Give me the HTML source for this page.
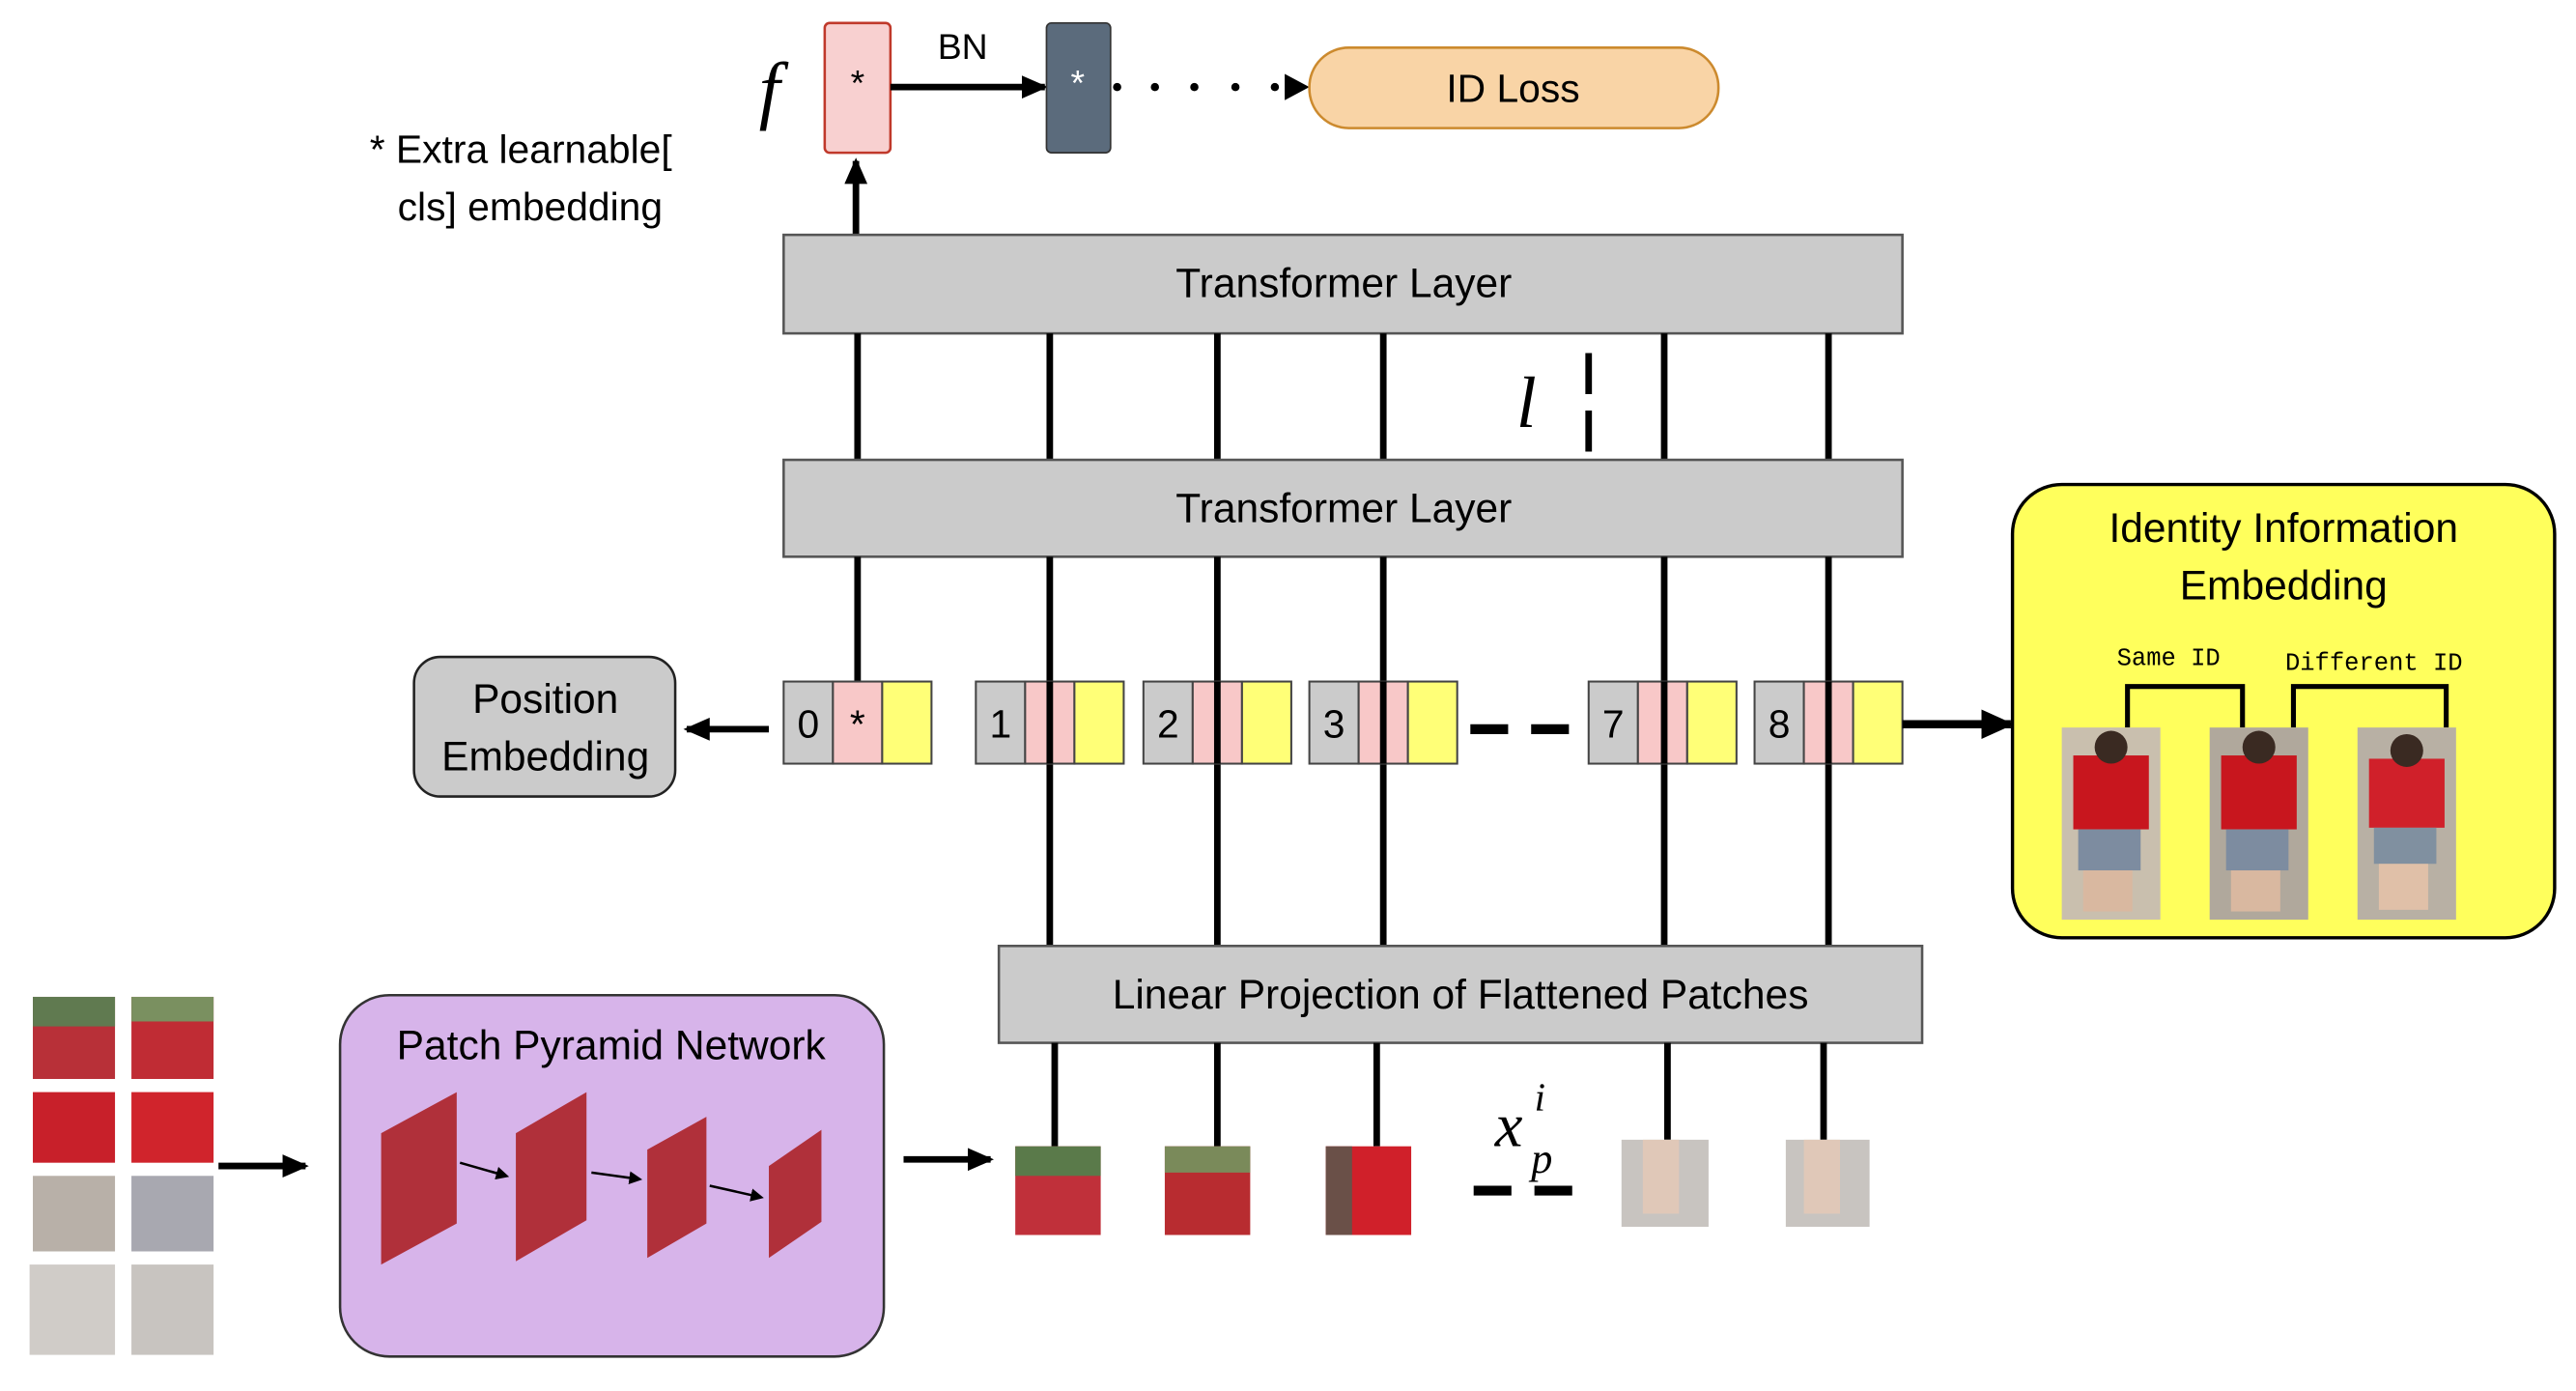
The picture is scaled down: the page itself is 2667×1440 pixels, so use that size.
<!DOCTYPE html>
<html><head><meta charset="utf-8"><style>html,body{margin:0;padding:0;background:#fff;}svg{display:block}</style></head>
<body>
<svg width="2667" height="1440" viewBox="0 0 1568 847" preserveAspectRatio="none" xmlns="http://www.w3.org/2000/svg" font-family="'Liberation Sans', sans-serif">
<defs>
<marker id="ah" markerWidth="8" markerHeight="8" refX="6" refY="4" orient="auto" markerUnits="userSpaceOnUse"><path d="M0,0 L8,4 L0,8 z" fill="#000"/></marker>
<marker id="ah2" markerWidth="16" markerHeight="14" refX="14" refY="7" orient="auto" markerUnits="userSpaceOnUse"><path d="M0,0 L16,7 L0,14 z" fill="#000"/></marker>
<marker id="ah3" markerWidth="20" markerHeight="18" refX="18" refY="9" orient="auto" markerUnits="userSpaceOnUse"><path d="M0,0 L20,9 L0,18 z" fill="#000"/></marker>
</defs>
<!-- top -->
<text x="462" y="70" font-family="'Liberation Serif', serif" font-style="italic" font-size="46">f</text>
<rect x="502" y="14" width="40" height="79" rx="3" fill="#f8d0d0" stroke="#c0392b" stroke-width="1.5"/>
<text x="522" y="58" text-anchor="middle" font-size="22">*</text>
<line x1="542" y1="53" x2="636" y2="53" stroke="#000" stroke-width="4" marker-end="url(#ah2)"/>
<text x="586" y="36" text-anchor="middle" font-size="22">BN</text>
<rect x="637" y="14" width="39" height="79" rx="3" fill="#5b6b7c" stroke="#333" stroke-width="1"/>
<text x="656" y="58" text-anchor="middle" font-size="22" fill="#fff">*</text>
<g fill="#000"><circle cx="680" cy="53" r="2.5"/><circle cx="703" cy="53" r="2.5"/><circle cx="727" cy="53" r="2.5"/><circle cx="752" cy="53" r="2.5"/><circle cx="776" cy="53" r="2.5"/></g>
<path d="M782,45 L797,53 L782,61 z" fill="#000"/>
<rect x="797" y="29" width="249" height="49" rx="24" fill="#f9d4a6" stroke="#cc8a2e" stroke-width="1.5"/>
<text x="921" y="62" text-anchor="middle" font-size="24">ID Loss</text>
<text x="225" y="99" font-size="24">*  Extra learnable[</text>
<text x="242" y="134" font-size="24">cls] embedding</text>
<line x1="521" y1="143" x2="521" y2="98" stroke="#000" stroke-width="4" marker-end="url(#ah2)"/>
<!-- transformer layers -->
<rect x="477" y="143" width="681" height="60" fill="#cbcbcb" stroke="#555" stroke-width="1.5"/>
<text x="818" y="181" text-anchor="middle" font-size="25">Transformer Layer</text>
<g stroke="#000" stroke-width="4">
<line x1="522" y1="203" x2="522" y2="280"/><line x1="639" y1="203" x2="639" y2="280"/><line x1="741" y1="203" x2="741" y2="280"/><line x1="842" y1="203" x2="842" y2="280"/><line x1="1013" y1="203" x2="1013" y2="280"/><line x1="1113" y1="203" x2="1113" y2="280"/>
<line x1="967" y1="215" x2="967" y2="240"/><line x1="967" y1="250" x2="967" y2="275"/>
</g>
<text x="923" y="260" font-family="'Liberation Serif', serif" font-style="italic" font-size="44">l</text>
<rect x="477" y="280" width="681" height="59" fill="#cbcbcb" stroke="#555" stroke-width="1.5"/>
<text x="818" y="318" text-anchor="middle" font-size="25">Transformer Layer</text>
<g stroke="#000" stroke-width="4">
<line x1="522" y1="339" x2="522" y2="415"/><line x1="639" y1="339" x2="639" y2="415"/><line x1="741" y1="339" x2="741" y2="415"/><line x1="842" y1="339" x2="842" y2="415"/><line x1="1013" y1="339" x2="1013" y2="415"/><line x1="1113" y1="339" x2="1113" y2="415"/>
<line x1="639" y1="465" x2="639" y2="576"/><line x1="741" y1="465" x2="741" y2="576"/><line x1="842" y1="465" x2="842" y2="576"/><line x1="1013" y1="465" x2="1013" y2="576"/><line x1="1113" y1="465" x2="1113" y2="576"/>
</g>
<!-- tokens -->
<g stroke="#444" stroke-width="1.2" font-size="24">
<rect x="477" y="415" width="30" height="50" fill="#cbcbcb"/><rect x="507" y="415" width="30" height="50" fill="#f8c8c8"/><rect x="537" y="415" width="30" height="50" fill="#ffff77"/>
<rect x="594" y="415" width="30" height="50" fill="#cbcbcb"/><rect x="624" y="415" width="30" height="50" fill="#f8c8c8"/><rect x="654" y="415" width="30" height="50" fill="#ffff77"/>
<rect x="696" y="415" width="30" height="50" fill="#cbcbcb"/><rect x="726" y="415" width="30" height="50" fill="#f8c8c8"/><rect x="756" y="415" width="30" height="50" fill="#ffff77"/>
<rect x="797" y="415" width="30" height="50" fill="#cbcbcb"/><rect x="827" y="415" width="30" height="50" fill="#f8c8c8"/><rect x="857" y="415" width="30" height="50" fill="#ffff77"/>
<rect x="967" y="415" width="30" height="50" fill="#cbcbcb"/><rect x="997" y="415" width="30" height="50" fill="#f8c8c8"/><rect x="1027" y="415" width="30" height="50" fill="#ffff77"/>
<rect x="1068" y="415" width="30" height="50" fill="#cbcbcb"/><rect x="1098" y="415" width="30" height="50" fill="#f8c8c8"/><rect x="1128" y="415" width="30" height="50" fill="#ffff77"/>
</g>
<g stroke="#000" stroke-width="4">
<line x1="639" y1="415" x2="639" y2="465"/><line x1="741" y1="415" x2="741" y2="465"/><line x1="842" y1="415" x2="842" y2="465"/><line x1="1013" y1="415" x2="1013" y2="465"/><line x1="1113" y1="415" x2="1113" y2="465"/>
</g>
<g font-size="24" text-anchor="middle">
<text x="492" y="449">0</text><text x="522" y="449">*</text><text x="609" y="449">1</text><text x="711" y="449">2</text><text x="812" y="449">3</text><text x="982" y="449">7</text><text x="1083" y="449">8</text>
</g>
<g stroke="#000" stroke-width="6"><line x1="895" y1="444" x2="918" y2="444"/><line x1="932" y1="444" x2="955" y2="444"/>
<line x1="897" y1="725" x2="920" y2="725"/><line x1="934" y1="725" x2="957" y2="725"/></g>
<!-- position embedding -->
<rect x="252" y="400" width="159" height="85" rx="16" fill="#cbcbcb" stroke="#222" stroke-width="1.5"/>
<text x="332" y="434" text-anchor="middle" font-size="25">Position</text>
<text x="332" y="469" text-anchor="middle" font-size="25">Embedding</text>
<line x1="468" y1="444" x2="418" y2="444" stroke="#000" stroke-width="4" marker-end="url(#ah2)"/>
<line x1="1158" y1="441" x2="1224" y2="441" stroke="#000" stroke-width="5" marker-end="url(#ah3)"/>
<!-- identity box -->
<rect x="1225" y="295" width="330" height="276" rx="30" fill="#ffff5c" stroke="#000" stroke-width="2"/>
<text x="1390" y="330" text-anchor="middle" font-size="25">Identity Information</text>
<text x="1390" y="365" text-anchor="middle" font-size="25">Embedding</text>
<text x="1320" y="405" text-anchor="middle" font-family="'Liberation Mono', monospace" font-size="15">Same ID</text>
<text x="1445" y="408" text-anchor="middle" font-family="'Liberation Mono', monospace" font-size="15">Different ID</text>
<g fill="none" stroke="#000" stroke-width="3"><path d="M1295,443 V418 H1365 V443"/><path d="M1396,443 V418 H1489 V443"/></g>
<g>
<rect x="1255" y="443" width="60" height="117" fill="#c9bfae"/><rect x="1262" y="460" width="46" height="45" fill="#c8161e"/><rect x="1265" y="505" width="38" height="25" fill="#7d8ca0"/><rect x="1268" y="530" width="30" height="25" fill="#d9b8a0"/><circle cx="1285" cy="455" r="10" fill="#3a2a22"/>
<rect x="1345" y="443" width="60" height="117" fill="#b0a89c"/><rect x="1352" y="460" width="46" height="45" fill="#c8161e"/><rect x="1355" y="505" width="38" height="25" fill="#7d8ca0"/><rect x="1358" y="530" width="30" height="25" fill="#d9b8a0"/><circle cx="1375" cy="455" r="10" fill="#3a2a22"/>
<rect x="1435" y="443" width="60" height="117" fill="#b8b0a4"/><rect x="1442" y="462" width="46" height="42" fill="#d0202a"/><rect x="1445" y="504" width="38" height="22" fill="#8090a0"/><rect x="1448" y="526" width="30" height="28" fill="#e0c0a8"/><circle cx="1465" cy="457" r="10" fill="#3a2a22"/>
</g>
<!-- linear projection -->
<rect x="608" y="576" width="562" height="59" fill="#cbcbcb" stroke="#555" stroke-width="1.5"/>
<text x="889" y="614" text-anchor="middle" font-size="25">Linear Projection of Flattened Patches</text>
<g stroke="#000" stroke-width="4">
<line x1="642" y1="635" x2="642" y2="698"/><line x1="741" y1="635" x2="741" y2="698"/><line x1="838" y1="635" x2="838" y2="698"/><line x1="1015" y1="635" x2="1015" y2="694"/><line x1="1110" y1="635" x2="1110" y2="694"/>
</g>
<rect x="618" y="698" width="52" height="54" fill="#c0303a"/><rect x="618" y="698" width="52" height="18" fill="#5a7a4a"/>
<rect x="709" y="698" width="52" height="54" fill="#b82c30"/><rect x="709" y="698" width="52" height="16" fill="#7a8a5a"/>
<rect x="807" y="698" width="52" height="54" fill="#d0202a"/><rect x="807" y="698" width="16" height="54" fill="#6a5048"/>
<rect x="987" y="694" width="53" height="53" fill="#c8c4c0"/><rect x="1000" y="694" width="22" height="45" fill="#e0c8b8"/>
<rect x="1087" y="694" width="51" height="53" fill="#c8c4c0"/><rect x="1098" y="694" width="22" height="45" fill="#e0c8b8"/>
<text x="910" y="698" font-family="'Liberation Serif', serif" font-style="italic" font-size="38">x</text>
<text x="934" y="676" font-family="'Liberation Serif', serif" font-style="italic" font-size="24">i</text>
<text x="932" y="714" font-family="'Liberation Serif', serif" font-style="italic" font-size="26">p</text>
<!-- left grid -->
<g>
<rect x="20" y="607" width="50" height="50" fill="#b83038"/><rect x="20" y="607" width="50" height="18" fill="#607a50"/>
<rect x="80" y="607" width="50" height="50" fill="#c02c34"/><rect x="80" y="607" width="50" height="15" fill="#7a9060"/>
<rect x="20" y="665" width="50" height="43" fill="#c8202a"/><rect x="80" y="665" width="50" height="43" fill="#d0242c"/>
<rect x="20" y="716" width="50" height="46" fill="#b8b0a8"/><rect x="80" y="716" width="50" height="46" fill="#a8a8b0"/>
<rect x="18" y="770" width="52" height="55" fill="#d0ccc8"/><rect x="80" y="770" width="50" height="55" fill="#c8c4c0"/>
</g>
<line x1="133" y1="710" x2="186" y2="710" stroke="#000" stroke-width="4" marker-end="url(#ah2)"/>
<rect x="207" y="606" width="331" height="220" rx="30" fill="#d7b4ea" stroke="#333" stroke-width="1.5"/>
<text x="372" y="645" text-anchor="middle" font-size="25">Patch Pyramid Network</text>
<polygon points="232,690 278,665 278,745 232,770" fill="#b0303a"/>
<polygon points="314,690 357,665 357,743 314,768" fill="#b0303a"/>
<polygon points="394,700 430,680 430,745 394,766" fill="#b0303a"/>
<polygon points="468,710 500,688 500,744 468,766" fill="#b0303a"/>
<g stroke="#000" stroke-width="1.5"><line x1="280" y1="708" x2="308" y2="716" marker-end="url(#ah)"/><line x1="360" y1="714" x2="389" y2="718" marker-end="url(#ah)"/><line x1="432" y1="722" x2="463" y2="729" marker-end="url(#ah)"/></g>
<line x1="550" y1="706" x2="603" y2="706" stroke="#000" stroke-width="4" marker-end="url(#ah2)"/>
</svg>
</body></html>
